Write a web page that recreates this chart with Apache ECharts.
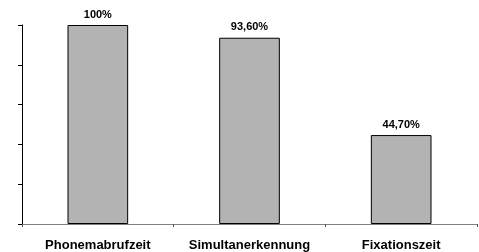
<!DOCTYPE html>
<html>
<head>
<meta charset="utf-8">
<script src="https://cdn.jsdelivr.net/npm/echarts@6/dist/echarts.min.js"></script>
<style>
  html, body { margin: 0; padding: 0; background: #fff; }
  #chart { width: 479px; height: 252px; }
</style>
</head>
<body>
<div id="chart"></div>
<script>
var categories = ["Phonemabrufzeit", "Simultanerkennung", "Fixationszeit"];
var values = [100, 93.6, 44.7];
var valueLabels = ["100%", "93,60%", "44,70%"];

var chart = echarts.init(document.getElementById("chart"));

var option = {
  animation: false,
  grid: {
    left: 22,
    right: 2,
    top: 25,
    bottom: 28
  },
  xAxis: {
    type: "category",
    data: categories,
    axisLine: {
      lineStyle: { color: "#808080", width: 1 }
    },
    axisTick: {
      show: true,
      length: 3,
      lineStyle: { color: "#555" }
    },
    axisLabel: {
      interval: 0,
      hideOverlap: false,
      color: "#000",
      fontFamily: "Liberation Sans, Arial, sans-serif",
      fontWeight: "bold",
      fontSize: 13,
      margin: 15
    }
  },
  yAxis: {
    type: "value",
    min: 0,
    max: 100,
    interval: 20,
    axisLine: {
      show: true,
      lineStyle: { color: "#000", width: 1 }
    },
    axisTick: {
      show: true,
      length: 4,
      lineStyle: { color: "#000" }
    },
    axisLabel: { show: false },
    splitLine: { show: false }
  },
  series: [
    {
      type: "bar",
      data: values,
      barWidth: "40%",
      itemStyle: {
        color: "#b3b3b3",
        borderColor: "#000",
        borderWidth: 1
      },
      label: {
        show: true,
        position: "top",
        distance: 5,
        color: "#000",
        fontFamily: "Liberation Sans, Arial, sans-serif",
        fontWeight: "bold",
        fontSize: 11,
        formatter: function (p) { return valueLabels[p.dataIndex]; }
      }
    }
  ]
};

chart.setOption(option);
</script>
</body>
</html>
